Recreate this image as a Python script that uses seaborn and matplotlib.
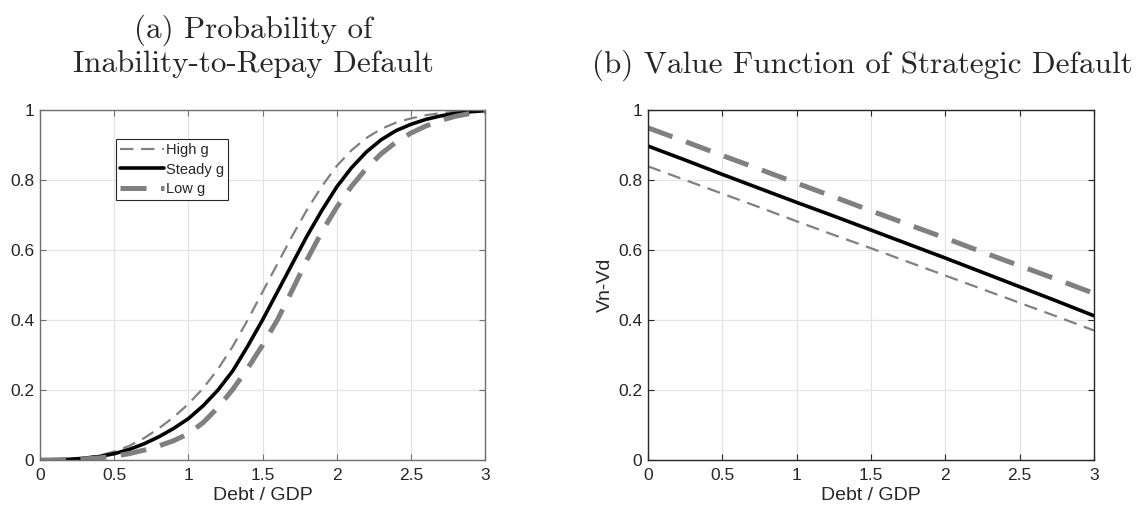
import numpy as np
import pandas as pd
import matplotlib
matplotlib.use('Agg')
import matplotlib.pyplot as plt
import seaborn as sns

# Debt / GDP grid for panel (a)
debt_a = [0.0, 0.1, 0.2, 0.3, 0.4, 0.5, 0.6, 0.7, 0.8, 0.9, 1.0,
          1.1, 1.2, 1.3, 1.4, 1.5, 1.6, 1.7, 1.8, 1.9, 2.0,
          2.1, 2.2, 2.3, 2.4, 2.5, 2.6, 2.7, 2.8, 2.9, 3.0]
prob_high = [0.000, 0.001, 0.003, 0.007, 0.013, 0.024, 0.040, 0.062, 0.090, 0.122, 0.160,
             0.205, 0.260, 0.325, 0.400, 0.480, 0.560, 0.640, 0.715, 0.782, 0.840,
             0.885, 0.920, 0.946, 0.964, 0.976, 0.985, 0.991, 0.995, 0.998, 0.999]
prob_steady = [0.000, 0.001, 0.002, 0.005, 0.010, 0.018, 0.030, 0.046, 0.066, 0.090, 0.118,
               0.155, 0.200, 0.255, 0.325, 0.400, 0.480, 0.560, 0.640, 0.713, 0.780,
               0.835, 0.880, 0.915, 0.941, 0.959, 0.973, 0.983, 0.990, 0.995, 0.998]
prob_low = [0.000, 0.000, 0.001, 0.003, 0.006, 0.011, 0.018, 0.028, 0.040, 0.055, 0.075,
            0.107, 0.150, 0.202, 0.262, 0.328, 0.400, 0.485, 0.572, 0.652, 0.722,
            0.782, 0.833, 0.875, 0.908, 0.934, 0.954, 0.970, 0.982, 0.990, 0.996]

# panel (b)
debt_b = [0.0, 0.25, 0.5, 0.75, 1.0, 1.25, 1.5, 1.75, 2.0, 2.25, 2.5, 2.75, 3.0]
val_high = [0.839, 0.800, 0.761, 0.722, 0.682, 0.643, 0.605, 0.566, 0.527, 0.488, 0.449, 0.410, 0.370]
val_steady = [0.897, 0.857, 0.816, 0.776, 0.736, 0.697, 0.657, 0.617, 0.577, 0.536, 0.495, 0.454, 0.412]
val_low = [0.949, 0.910, 0.870, 0.831, 0.791, 0.752, 0.712, 0.673, 0.634, 0.594, 0.555, 0.516, 0.476]

labels = ['High g', 'Steady g', 'Low g']

df_a = pd.DataFrame({'debt': debt_a, 'High g': prob_high, 'Steady g': prob_steady, 'Low g': prob_low})
df_b = pd.DataFrame({'debt': debt_b, 'High g': val_high, 'Steady g': val_steady, 'Low g': val_low})

sns.set_theme(style='whitegrid')
plt.rcParams['font.family'] = ['Liberation Sans', 'DejaVu Sans']
plt.rcParams['xtick.direction'] = 'in'
plt.rcParams['ytick.direction'] = 'in'

gray = '#808080'
styles = {
    'High g': dict(color=gray, linewidth=1.6, linestyle=(0, (6, 3.5))),
    'Steady g': dict(color='black', linewidth=2.6, linestyle='-'),
    'Low g': dict(color=gray, linewidth=3.6, linestyle=(0, (5.2, 2.9))),
}

fig = plt.figure(figsize=(11.41, 5.17), dpi=100)
ax1 = fig.add_axes([40 / 1141, 57 / 517, 445 / 1141, 350 / 517])
ax2 = fig.add_axes([648 / 1141, 57 / 517, 446 / 1141, 350 / 517])

for ax, df, edge in [(ax1, df_a, '#707070'), (ax2, df_b, '#262626')]:
    for lab in labels:
        sns.lineplot(data=df, x='debt', y=lab, ax=ax, label=lab, **styles[lab])
    ax.set_xlim(0, 3)
    ax.set_ylim(0, 1)
    ax.set_xticks([0, 0.5, 1, 1.5, 2, 2.5, 3])
    ax.set_xticklabels(['0', '0.5', '1', '1.5', '2', '2.5', '3'])
    ax.set_yticks([0, 0.2, 0.4, 0.6, 0.8, 1])
    ax.set_yticklabels(['0', '0.2', '0.4', '0.6', '0.8', '1'])
    ax.grid(True, color='#e4e4e4', linewidth=0.9)
    ax.set_facecolor('white')
    for sp in ax.spines.values():
        sp.set_visible(True)
        sp.set_color(edge)
        sp.set_linewidth(1.0)
    ax.tick_params(axis='both', which='both', direction='in', length=4, width=0.8,
                   color=edge, labelsize=12.5, labelcolor='#262626',
                   top=True, right=True, bottom=True, left=True)
    ax.tick_params(axis='x', pad=6)
    ax.tick_params(axis='y', pad=4)
    ax.set_xlabel('Debt / GDP', fontsize=14, color='#262626', labelpad=3)
    ax.set_ylabel('')

ax1.legend(loc='upper left', bbox_to_anchor=(0.171, 0.917), borderaxespad=0,
           fancybox=False, framealpha=1, edgecolor='#262626', fontsize=10.5,
           handlelength=3.0, handletextpad=0.1, labelspacing=0.35, borderpad=0.3)
ax1.get_legend().get_frame().set_linewidth(0.8)
ax2.get_legend().remove()

ax2.set_ylabel('Vn-Vd', fontsize=14, color='#262626', labelpad=3)

ax1.set_title('(a) Probability of\nInability-to-Repay Default', fontfamily='cmr10',
              fontsize=22.4, pad=27, linespacing=1.22, x=0.48)
ax2.set_title('(b) Value Function of Strategic Default', fontfamily='cmr10',
              fontsize=22.4, pad=27, x=0.48)

fig.savefig('out.png', dpi=100)
